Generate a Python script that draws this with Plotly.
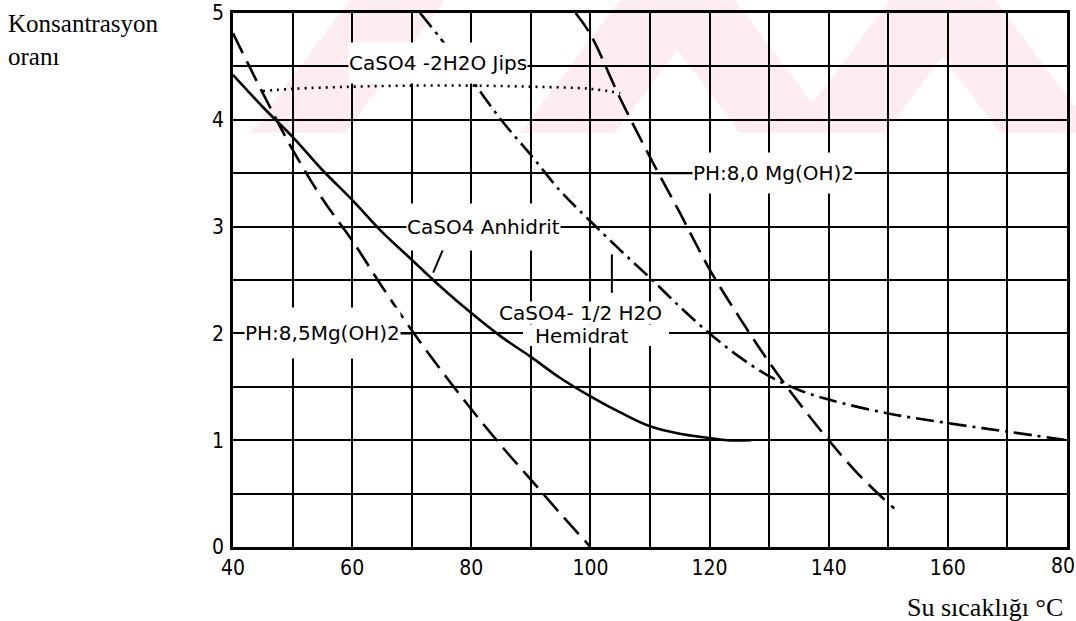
import plotly.graph_objects as go

# ---------------- data ----------------
anhidrit_x = [40, 45, 50, 55, 60, 65, 70, 75, 80, 85, 90, 95, 100, 105, 110, 115, 120, 123, 127]
anhidrit_y = [4.42, 4.12, 3.84, 3.53, 3.25, 2.95, 2.69, 2.43, 2.19, 1.97, 1.78, 1.58, 1.41, 1.26, 1.13, 1.06, 1.02, 1.0, 1.0]

ph85_x = [40, 45, 50, 55, 60, 65, 70, 75, 80, 85, 90, 95, 100]
ph85_y = [4.81, 4.25, 3.72, 3.26, 2.87, 2.44, 2.03, 1.65, 1.29, 0.95, 0.63, 0.31, 0.0]

ph80_x = [97.5, 100, 105, 110, 115, 120, 125, 130, 135, 140, 145, 151]
ph80_y = [5.0, 4.8, 4.2, 3.65, 3.13, 2.6, 2.15, 1.73, 1.35, 1.0, 0.68, 0.36]

hemidrat_x = [71.4, 75, 80, 85, 90, 95, 100, 105, 110, 115, 120, 125, 130, 135, 140, 150, 160, 170, 180]
hemidrat_y = [5.0, 4.75, 4.38, 4.0, 3.67, 3.33, 3.05, 2.78, 2.52, 2.25, 2.0, 1.78, 1.6, 1.47, 1.38, 1.25, 1.16, 1.08, 1.0]

jips_x = [45, 50, 60, 70, 80, 90, 100, 105]
jips_y = [4.27, 4.29, 4.31, 4.32, 4.32, 4.31, 4.29, 4.25]

x_tickvals = [40, 60, 80, 100, 120, 140, 160, 180]
x_ticktext = ["40", "60", "80", "100", "120", "140", "160", "80"]
y_tickvals = [0, 1, 2, 3, 4, 5]
y_ticktext = ["0", "1", "2", "3", "4", "5"]

y_title = "Konsantrasyon<br>oranı"
x_title = "Su sıcaklığı °C"

# ---------------- layout geometry ----------------
W, H = 1076, 621
L, R, T, B = 233, 1067, 13, 547


def px(xp):
    return (xp - L) / (R - L)


def py(yp):
    return (B - yp) / (B - T)


fig = go.Figure()

curve_w = 2.6
fig.add_trace(go.Scatter(x=anhidrit_x, y=anhidrit_y, mode="lines", line=dict(color="black", width=curve_w, shape="spline"), hoverinfo="skip"))
fig.add_trace(go.Scatter(x=ph85_x, y=ph85_y, mode="lines", line=dict(color="black", width=curve_w, dash="22px,9px", shape="spline"), hoverinfo="skip"))
fig.add_trace(go.Scatter(x=ph80_x, y=ph80_y, mode="lines", line=dict(color="black", width=curve_w, dash="22px,9px", shape="spline"), hoverinfo="skip"))
fig.add_trace(go.Scatter(x=hemidrat_x, y=hemidrat_y, mode="lines", line=dict(color="black", width=curve_w, dash="18px,6px,3px,6px", shape="spline"), hoverinfo="skip"))
fig.add_trace(go.Scatter(x=jips_x, y=jips_y, mode="lines", line=dict(color="black", width=2.6, dash="2px,5px", shape="spline"), hoverinfo="skip"))

# ---------------- faint pink watermark stripes ----------------
pink = "#fdedf0"
band_top, band_bot = 0, 133
run = 100
stripe_w = 95
shapes = []
for bl in [250, 520, 790]:  # "/" stripes, bottom-left x
    pts = [(bl, band_bot), (bl + stripe_w, band_bot), (bl + stripe_w + run, band_top), (bl + run, band_top)]
    path = "M " + " L ".join(f"{px(a):.4f},{py(b):.4f}" for a, b in pts) + " Z"
    shapes.append(dict(type="path", path=path, xref="paper", yref="paper", fillcolor=pink, line=dict(width=0), layer="below"))
for tl in [640, 900]:  # "\" stripes, top-left x
    pts = [(tl, band_top), (tl + stripe_w, band_top), (tl + stripe_w + run, band_bot), (tl + run, band_bot)]
    path = "M " + " L ".join(f"{px(a):.4f},{py(b):.4f}" for a, b in pts) + " Z"
    shapes.append(dict(type="path", path=path, xref="paper", yref="paper", fillcolor=pink, line=dict(width=0), layer="below"))

# white patch behind the second line of the hemidrat label (covers grid only)
shapes.append(dict(type="rect", xref="paper", yref="paper", x0=px(523), x1=px(669), y0=py(346), y1=py(325),
                   fillcolor="white", line=dict(width=0), layer="above"))

# leader lines of the labels
shapes.append(dict(type="line", xref="x", yref="y", x0=75.9, y0=2.87, x1=73.6, y1=2.57, line=dict(color="black", width=2)))
shapes.append(dict(type="line", xref="x", yref="y", x0=103.6, y0=2.38, x1=103.6, y1=2.74, line=dict(color="black", width=2)))
shapes.append(dict(type="line", xref="x", yref="y", x0=62.0, y0=2.0, x1=70.2, y1=2.0, line=dict(color="black", width=2)))
shapes.append(dict(type="line", xref="x", yref="y", x0=110.5, y0=3.5, x1=120, y1=3.5, line=dict(color="black", width=2)))

label_font = dict(family="DejaVu Sans, Verdana, sans-serif", size=20, color="black")
annotations = [
    dict(x=74.4, y=4.53, text="CaSO4 -2H2O Jips", height=40),
    dict(x=130.8, y=3.5, text="PH:8,0 Mg(OH)2", height=40),
    dict(x=82.1, y=3.0, text="CaSO4 Anhidrit", height=46),
    dict(x=55.1, y=2.0, text="PH:8,5Mg(OH)2", height=50),
    dict(x=98.4, y=2.195, text="CaSO4- 1/2 H2O", height=22),
    dict(x=98.6, y=1.98, text="Hemidrat", height=22),
]
for a in annotations:
    a.update(xref="x", yref="y", showarrow=False, font=label_font, bgcolor="white", borderpad=0, xanchor="center", yanchor="middle")

tick_font = dict(family="DejaVu Sans Condensed, Liberation Sans Narrow, Arial Narrow, sans-serif", size=21, color="black")

# the last x tick label sits at the right edge of the page: place it slightly inward
axis_ticktext = x_ticktext[:-1] + [""]
annotations.append(dict(xref="x", yref="paper", x=x_tickvals[-1], y=py(566), xanchor="center", yanchor="middle",
                        xshift=-4, text=x_ticktext[-1], showarrow=False, font=tick_font))

annotations.append(dict(xref="paper", yref="paper", x=px(6), y=py(8), xanchor="left", yanchor="top", align="left",
                        text=y_title, showarrow=False, font=dict(family="Liberation Serif, Times New Roman, serif", size=25, color="black")))
annotations.append(dict(xref="paper", yref="paper", x=px(985), y=py(607), xanchor="center", yanchor="middle",
                        text=x_title, showarrow=False, font=dict(family="Liberation Serif, Times New Roman, serif", size=26, color="black")))

fig.update_layout(
    width=W, height=H,
    margin=dict(l=L, r=W - R, t=T, b=H - B, pad=0, autoexpand=False),
    paper_bgcolor="white",
    plot_bgcolor="rgba(0,0,0,0)",
    showlegend=False,
    shapes=shapes,
    annotations=annotations,
    xaxis=dict(range=[40, 180], tickvals=x_tickvals, ticktext=axis_ticktext, showgrid=True, gridcolor="black", gridwidth=1.8,
               minor=dict(dtick=10, tick0=40, showgrid=True, gridcolor="black", gridwidth=1.8),
               zeroline=False, showline=True, linecolor="black", linewidth=2.5, mirror=True, automargin=False,
               ticks="", ticklabelstandoff=0, ticklabeloverflow="allow", tickfont=tick_font),
    yaxis=dict(range=[0, 5], tickvals=y_tickvals, ticktext=y_ticktext, showgrid=True, gridcolor="black", gridwidth=1.8,
               minor=dict(dtick=0.5, tick0=0, showgrid=True, gridcolor="black", gridwidth=1.8),
               zeroline=False, showline=True, linecolor="black", linewidth=2.5, mirror=True, automargin=False,
               ticks="", ticklabelstandoff=2, ticklabeloverflow="allow", tickfont=tick_font),
)

fig.write_html("out.html")
